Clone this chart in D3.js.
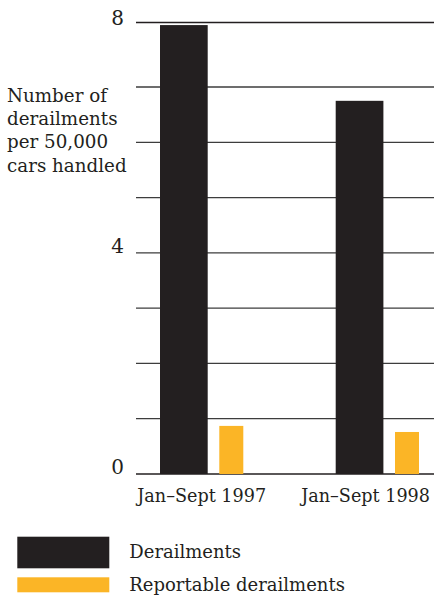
<!DOCTYPE html>
<html>
<head>
<meta charset="utf-8">
<script src="https://cdn.jsdelivr.net/npm/d3@7"></script>
<style>
  body { margin: 0; background: #fff; }
  svg text { font-family: "DejaVu Serif", serif; fill: #231f20; }
</style>
</head>
<body>
<svg id="chart" width="434" height="597"></svg>
<script>
// data
let periods = ["Jan\u2013Sept 1997", "Jan\u2013Sept 1998"];
let derailments = [7.96, 6.75];
let reportable = [0.87, 0.76];
let yTicks = [0, 1, 2, 3, 4, 5, 6, 7, 8];
let yLabels = ["0", "", "", "", "4", "", "", "", "8"];
let titleLines = ["Number of", "derailments", "per 50,000", "cars handled"];
let legendNames = ["Derailments", "Reportable derailments"];

let svg = d3.select("#chart");
let width = 434;
let colors = ["#231f20", "#fbb526"];

// top gridline sits a bit higher than the even spacing below it
let y = d3.scaleLinear()
  .domain([0, 7, 8])
  .range([474, 87, 22.5]);

let x = d3.scaleBand()
  .domain(periods)
  .range([160, 160 + 2 * 175.7]);

let grid = svg.append("g");
grid.selectAll("line")
  .data(yTicks)
  .enter()
  .append("line")
  .attr("x1", 136)
  .attr("x2", width)
  .attr("y1", d => y(d))
  .attr("y2", d => y(d))
  .attr("stroke", d => d == 8 || d == 0 ? "#231f20" : "#3d3d3d")
  .attr("stroke-width", 1.3);

grid.selectAll("text")
  .data(yTicks)
  .enter()
  .append("text")
  .attr("x", 124)
  .attr("y", d => y(d) + (d == 8 ? 2 : 0))
  .attr("text-anchor", "end")
  .style("font-size", "20px")
  .text((d, i) => yLabels[i]);

let title = svg.append("text")
  .attr("x", 7)
  .attr("y", 101.7)
  .style("font-size", "18.3px");
title.selectAll("tspan")
  .data(titleLines)
  .enter()
  .append("tspan")
  .attr("x", 7)
  .attr("dy", (d, i) => i == 0 ? 0 : 23.3)
  .text(d => d);

let bars = svg.append("g");
bars.selectAll("rect.derail")
  .data(derailments)
  .enter()
  .append("rect")
  .attr("class", "derail")
  .attr("x", (d, i) => x(periods[i]))
  .attr("width", 47.7)
  .attr("y", d => y(d))
  .attr("height", d => y(0) - y(d))
  .attr("fill", colors[0]);

bars.selectAll("rect.report")
  .data(reportable)
  .enter()
  .append("rect")
  .attr("class", "report")
  .attr("x", (d, i) => x(periods[i]) + 59.3)
  .attr("width", 24)
  .attr("y", d => y(d))
  .attr("height", d => y(0) - y(d))
  .attr("fill", colors[1]);

// category labels, kept inside the right edge
svg.append("g").selectAll("text")
  .data(periods)
  .enter()
  .append("text")
  .attr("y", 501.5)
  .attr("text-anchor", "middle")
  .style("font-size", "17.6px")
  .text(d => d)
  .attr("x", function(d) {
    let w = this.getComputedTextLength();
    let cx = x(d) + 41.7;
    return Math.min(cx, width - 4 - w / 2);
  });

let legend = svg.append("g");
legend.selectAll("rect")
  .data(legendNames)
  .enter()
  .append("rect")
  .attr("x", 17.3)
  .attr("width", 92)
  .attr("y", (d, i) => i == 0 ? 536.7 : 577.3)
  .attr("height", (d, i) => i == 0 ? 31.6 : 15)
  .attr("fill", (d, i) => colors[i]);

legend.selectAll("text")
  .data(legendNames)
  .enter()
  .append("text")
  .attr("x", 129.3)
  .attr("y", (d, i) => i == 0 ? 558 : 591)
  .style("font-size", "18px")
  .text(d => d);
</script>
</body>
</html>
